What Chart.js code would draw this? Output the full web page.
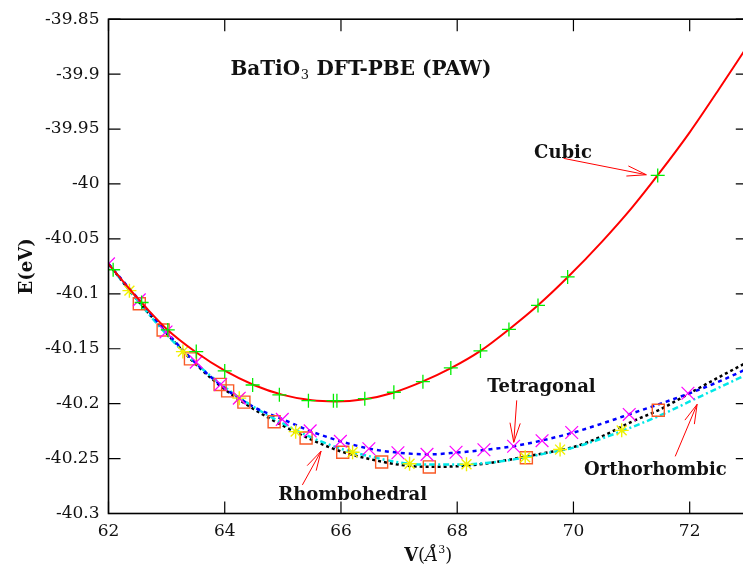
<!DOCTYPE html>
<html><head><meta charset="utf-8">
<script src="https://cdn.jsdelivr.net/npm/chart.js@4.4.0/dist/chart.umd.min.js"></script>
<style>
html,body{margin:0;padding:0;overflow:hidden;background:#fff;width:743px;height:574px}
#wrap{position:absolute;left:0;top:0;width:758px;height:574px}
</style>
</head><body><div id="wrap"><canvas id="c" width="758" height="574"></canvas></div>
<script>
// ---- tick definitions ----
const xTicks = [62, 64, 66, 68, 70, 72];
const yTicks = [-39.85, -39.9, -39.95, -40, -40.05, -40.1, -40.15, -40.2, -40.25, -40.3];
const yTickLabels = ['-39.85', '-39.9', '-39.95', '-40', '-40.05', '-40.1', '-40.15', '-40.2', '-40.25', '-40.3'];

// ---- Cubic (points + fit) ----
const cubicV = [62.08, 62.57, 63.02, 63.51, 64.00, 64.48, 64.94, 65.44, 65.87, 65.93, 66.41, 66.91, 67.41, 67.89, 68.40, 68.89, 69.39, 69.90, 71.45];
const cubicE = [-40.0781, -40.1079, -40.1329, -40.1526, -40.1702, -40.1830, -40.1920, -40.1973, -40.1973, -40.1973, -40.1955, -40.1896, -40.1800, -40.1675, -40.1520, -40.1324, -40.1106, -40.0846, -39.9922];
const cubicFitV = [62.0, 62.5, 63.0, 63.5, 64.0, 64.5, 65.0, 65.5, 65.9, 66.4, 66.9, 67.4, 67.9, 68.4, 68.9, 69.4, 69.9, 70.5, 71.0, 71.45, 72.0, 72.5, 73.0];
const cubicFitE = [-40.073, -40.104, -40.132, -40.153, -40.170, -40.183, -40.192, -40.197, -40.198, -40.196, -40.190, -40.180, -40.1675, -40.152, -40.132, -40.110, -40.085, -40.052, -40.022, -39.992, -39.953, -39.914, -39.874];

// ---- Tetragonal ----
const tetraV = [62.0, 62.53, 62.99, 63.51, 63.93, 64.25, 64.99, 65.47, 65.99, 66.48, 66.98, 67.48, 67.98, 68.46, 68.97, 69.46, 69.97, 70.96, 71.97];
const tetraE = [-40.0727, -40.1055, -40.1347, -40.1622, -40.1825, -40.1950, -40.2143, -40.2248, -40.2343, -40.2411, -40.2447, -40.2462, -40.2442, -40.2420, -40.2388, -40.2337, -40.2263, -40.2098, -40.1905];
const tetraFitV = [62.0, 62.5, 63.0, 63.5, 64.0, 64.5, 65.0, 65.5, 66.0, 66.5, 67.0, 67.5, 68.0, 68.5, 69.0, 69.5, 70.0, 70.5, 71.0, 71.5, 72.0, 72.5, 73.0];
const tetraFitE = [-40.0727, -40.104, -40.135, -40.163, -40.186, -40.203, -40.2143, -40.2255, -40.2343, -40.2411, -40.2447, -40.2462, -40.2445, -40.242, -40.2385, -40.233, -40.2263, -40.218, -40.209, -40.200, -40.1905, -40.180, -40.168];

// ---- Orthorhombic ----
const orthoV = [62.36, 63.28, 64.25, 65.22, 66.20, 67.18, 68.16, 69.17, 69.77, 70.83];
const orthoE = [-40.0971, -40.1526, -40.1950, -40.2255, -40.2442, -40.2547, -40.2552, -40.2489, -40.2418, -40.2243];
const orthoFitV = [62.0, 62.5, 63.0, 63.5, 64.0, 64.5, 65.0, 65.5, 66.0, 66.5, 67.0, 67.5, 68.0, 68.5, 69.0, 69.5, 70.0, 70.5, 71.0, 71.5, 72.0, 72.5, 73.0];
const orthoFitE = [-40.0727, -40.106, -40.137, -40.163, -40.185, -40.203, -40.218, -40.231, -40.241, -40.248, -40.2535, -40.2555, -40.2555, -40.254, -40.2505, -40.2455, -40.240, -40.2315, -40.2215, -40.2105, -40.198, -40.1855, -40.173];

// ---- Rhombohedral ----
const rhomboV = [62.53, 62.94, 63.41, 63.92, 64.05, 64.33, 64.85, 65.40, 66.03, 66.70, 67.52, 69.19, 71.46];
const rhomboE = [-40.1091, -40.1329, -40.1592, -40.1825, -40.1884, -40.1986, -40.2165, -40.2313, -40.2442, -40.2531, -40.2576, -40.2492, -40.2060];
const rhomboFitV = [62.0, 62.5, 63.0, 63.5, 64.0, 64.5, 65.0, 65.5, 66.0, 66.5, 67.0, 67.5, 68.0, 68.5, 69.0, 69.5, 70.0, 70.5, 71.0, 71.5, 72.0, 72.5, 73.0];
const rhomboFitE = [-40.0727, -40.106, -40.136, -40.164, -40.187, -40.205, -40.220, -40.233, -40.2435, -40.2505, -40.2555, -40.2575, -40.257, -40.2545, -40.2500, -40.2450, -40.2395, -40.2295, -40.2165, -40.205, -40.1905, -40.176, -40.162];

// ---- annotations (data coordinates) ----
const labelTexts = ['Cubic', 'Tetragonal', 'Orthorhombic', 'Rhombohedral'];
const labelV = [69.82, 69.45, 71.41, 66.20];
const labelE = [-39.9764, -40.1896, -40.265, -40.288];
const arrowFromV = [69.83, 69.024, 71.751, 65.336];
const arrowFromE = [-39.9767, -40.197, -40.248, -40.274];
const arrowToV = [71.254, 68.973, 72.128, 65.657];
const arrowToE = [-39.9916, -40.2352, -40.2006, -40.2433];
const titleV = 66.343, titleE = -39.9005;

const pts = (xs, ys) => xs.map((x, i) => ({x: x, y: ys[i]}));

const SERIF = '"DejaVu Serif", serif';

const decor = {
  id: 'decor',
  afterDraw(chart) {
    const ctx = chart.ctx;
    const a = chart.chartArea;
    const xs = chart.scales.x, ys = chart.scales.y;
    ctx.save();
    // frame
    ctx.strokeStyle = '#000';
    ctx.lineWidth = 1.6;
    ctx.strokeRect(a.left, a.top, a.right - a.left, a.bottom - a.top);
    // ticks (inward, mirrored)
    ctx.lineWidth = 1.2;
    const tl = 12;
    ctx.beginPath();
    yTicks.forEach(v => {
      const y = ys.getPixelForValue(v);
      ctx.moveTo(a.left, y); ctx.lineTo(a.left + tl, y);
      ctx.moveTo(a.right, y); ctx.lineTo(a.right - tl, y);
    });
    xTicks.forEach(v => {
      const x = xs.getPixelForValue(v);
      ctx.moveTo(x, a.bottom); ctx.lineTo(x, a.bottom - tl);
      ctx.moveTo(x, a.top); ctx.lineTo(x, a.top + tl);
    });
    ctx.stroke();

    // title with subscript
    ctx.fillStyle = '#111';
    ctx.textBaseline = 'alphabetic';
    const fB = 'bold 20px ' + SERIF;
    const fSub = '13px ' + SERIF;
    ctx.font = fB; const w1 = ctx.measureText('BaTiO').width;
    ctx.font = fSub; const w2 = ctx.measureText('3').width + 1;
    ctx.font = fB; const w3 = ctx.measureText(' DFT-PBE (PAW)').width;
    const tw = w1 + w2 + w3;
    let tx = xs.getPixelForValue(titleV) - tw / 2;
    const ty = ys.getPixelForValue(titleE);
    ctx.textAlign = 'left';
    ctx.font = fB; ctx.fillText('BaTiO', tx, ty);
    ctx.font = fSub; ctx.fillText('3', tx + w1 + 0.5, ty + 4);
    ctx.font = fB; ctx.fillText(' DFT-PBE (PAW)', tx + w1 + w2, ty);

    // labels
    ctx.font = 'bold 18px ' + SERIF;
    ctx.textAlign = 'center';
    labelTexts.forEach((t, i) => {
      ctx.fillText(t, xs.getPixelForValue(labelV[i]), ys.getPixelForValue(labelE[i]));
    });

    // arrows
    ctx.strokeStyle = '#ff0000';
    ctx.lineWidth = 1;
    arrowFromV.forEach((v, i) => {
      const x0 = xs.getPixelForValue(v), y0 = ys.getPixelForValue(arrowFromE[i]);
      const x1 = xs.getPixelForValue(arrowToV[i]), y1 = ys.getPixelForValue(arrowToE[i]);
      const ang = Math.atan2(y1 - y0, x1 - x0);
      const hl = 20, ha = 0.26;
      ctx.beginPath();
      ctx.moveTo(x0, y0); ctx.lineTo(x1, y1);
      ctx.moveTo(x1 - hl * Math.cos(ang - ha), y1 - hl * Math.sin(ang - ha));
      ctx.lineTo(x1, y1);
      ctx.lineTo(x1 - hl * Math.cos(ang + ha), y1 - hl * Math.sin(ang + ha));
      ctx.stroke();
    });

    // axis titles
    ctx.fillStyle = '#111';
    ctx.save();
    ctx.translate(a.left - 81, (a.top + a.bottom) / 2);
    ctx.rotate(-Math.PI / 2);
    ctx.font = 'bold 18px ' + SERIF;
    ctx.textAlign = 'center';
    ctx.textBaseline = 'middle';
    ctx.fillText('E(eV)', 0, 0);
    ctx.restore();

    // x title: V(Å³)
    const parts = [
      {t: 'V', f: 'bold 18px ' + SERIF, dy: 0},
      {t: '(', f: '18px ' + SERIF, dy: 0},
      {t: 'Å', f: 'italic 18px ' + SERIF, dy: 0},
      {t: '3', f: '11px ' + SERIF, dy: -8},
      {t: ')', f: '18px ' + SERIF, dy: 0}
    ];
    let total = 0;
    parts.forEach(p => { ctx.font = p.f; p.w = ctx.measureText(p.t).width; total += p.w; });
    let px = (a.left + a.right) / 2 - total / 2;
    const py = a.bottom + 47;
    ctx.textAlign = 'left';
    ctx.textBaseline = 'alphabetic';
    parts.forEach(p => { ctx.font = p.f; ctx.fillText(p.t, px, py + p.dy); px += p.w; });
    ctx.restore();
  }
};

const lineDs = (label, xs, ys, color, width, dash) => ({
  label, data: pts(xs, ys), showLine: true, borderColor: color, borderWidth: width,
  borderDash: dash, pointRadius: 0, fill: false, cubicInterpolationMode: 'monotone'
});
const pointDs = (label, xs, ys, color, style, r, bw) => ({
  label, data: pts(xs, ys), showLine: false, pointStyle: style, pointRadius: r,
  pointBorderColor: color, pointBackgroundColor: 'rgba(0,0,0,0)', pointBorderWidth: bw
});

new Chart(document.getElementById('c'), {
  type: 'scatter',
  data: {
    datasets: [
      pointDs('Cubic pts', cubicV, cubicE, '#00ee00', 'cross', 7, 1.3),
      lineDs('Cubic fit', cubicFitV, cubicFitE, '#ff0000', 2, []),
      pointDs('Tetragonal pts', tetraV, tetraE, '#ff00ff', 'crossRot', 9, 1.2),
      pointDs('Orthorhombic pts', orthoV, orthoE, '#f0f000', 'star', 7, 1.4),
      pointDs('Rhombohedral pts', rhomboV, rhomboE, '#f95a26', 'rect', 8.5, 1.4),
      lineDs('Tetragonal fit', tetraFitV, tetraFitE, '#0000ff', 2.5, [4, 4]),
      lineDs('Orthorhombic fit', orthoFitV, orthoFitE, '#00e8e8', 2.5, [6, 3, 2, 3]),
      lineDs('Rhombohedral fit', rhomboFitV, rhomboFitE, '#000000', 2.5, [3, 3])
    ]
  },
  options: {
    responsive: false,
    animation: false,
    devicePixelRatio: 1,
    layout: {padding: {top: 11, right: 8, left: 0, bottom: 0}},
    plugins: {legend: {display: false}, tooltip: {enabled: false}},
    scales: {
      x: {
        type: 'linear', min: 62, max: 73,
        afterBuildTicks: s => { s.ticks = xTicks.map(v => ({value: v})); },
        afterFit: s => { s.height = 60.5; },
        grid: {display: false, drawTicks: false},
        border: {display: false},
        ticks: {color: '#111', font: {family: SERIF, size: 17}, padding: 8, maxRotation: 0, autoSkip: false,
                callback: v => String(v)}
      },
      y: {
        type: 'linear', min: -40.3, max: -39.85,
        afterBuildTicks: s => { s.ticks = yTicks.map(v => ({value: v})); },
        afterFit: s => { s.width = 108.5; },
        grid: {display: false, drawTicks: false},
        border: {display: false},
        ticks: {color: '#111', font: {family: SERIF, size: 17}, padding: 9, autoSkip: false,
                callback: (v, i) => yTickLabels[i]}
      }
    }
  },
  plugins: [decor]
});
</script>
</body></html>
